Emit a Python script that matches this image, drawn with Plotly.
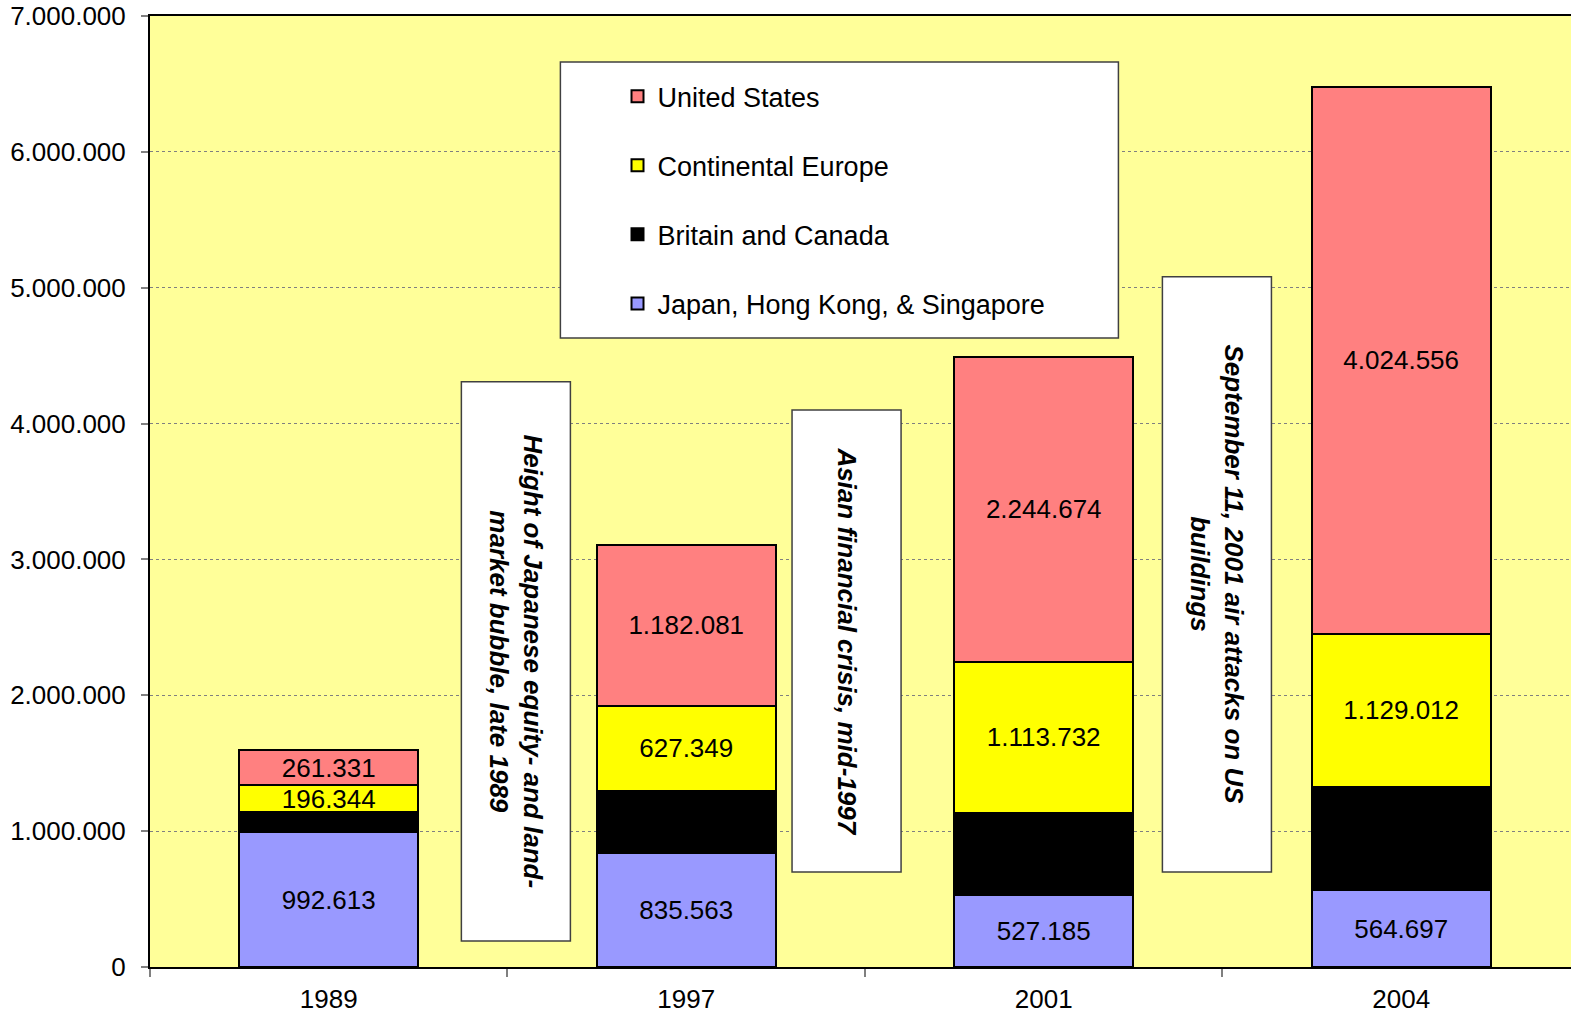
import plotly.graph_objects as go

# Market capitalisation by region (stacked), selected years
years = ["1989", "1997", "2001", "2004"]
japan_hk_sg = [992613, 835563, 527185, 564697]
britain_canada = [148000, 460000, 607000, 760000]
continental_europe = [196344, 627349, 1113732, 1129012]
united_states = [261331, 1182081, 2244674, 4024556]

y_ticks = [0, 1000000, 2000000, 3000000, 4000000, 5000000, 6000000, 7000000]

events = [
    "Height of Japanese equity- and land-<br>market bubble, late 1989",
    "Asian financial crisis, mid-1997",
    "September 11, 2001 air attacks on US<br>buildings",
]

FONT = "Liberation Sans, Arial, sans-serif"
xpos = list(range(len(years)))

# (name, values, colour, show value label, legend rank)
series = [
    ("Japan, Hong Kong, & Singapore", japan_hk_sg, "#9999FF", True, 4),
    ("Britain and Canada", britain_canada, "#000000", False, 3),
    ("Continental Europe", continental_europe, "#FFFF00", True, 2),
    ("United States", united_states, "#FF8080", True, 1),
]

fig = go.Figure()
for name, vals, color, labelled, rank in series:
    fig.add_trace(go.Bar(
        name=name, x=xpos, y=vals, width=0.5,
        marker=dict(color=color, line=dict(color="#000000", width=2)),
        texttemplate="%{y:,.0f}" if labelled else "",
        textposition="inside", insidetextanchor="middle",
        textangle=0, constraintext="none",
        textfont=dict(family=FONT, size=26, color="#000000"),
        legendgroup=name, legendrank=rank,
    ))

# Event boxes between the bars (x in category units, y in data units)
boxes = [
    (0.371, 0.676, 191000, 4308000),
    (1.296, 1.601, 700000, 4100000),
    (2.332, 2.637, 700000, 5080000),
]
shapes = []
annotations = []
for (x0, x1, y0, y1), txt in zip(boxes, events):
    shapes.append(dict(type="rect", xref="x", yref="y", x0=x0, x1=x1, y0=y0, y1=y1,
                       fillcolor="#FFFFFF", line=dict(color="#404040", width=1.5),
                       layer="above"))
    annotations.append(dict(x=(x0 + x1) / 2, y=(y0 + y1) / 2, xref="x", yref="y",
                            text=txt, showarrow=False, textangle=90, align="center",
                            font=dict(family=FONT, size=26, color="#000000",
                                      weight="bold", style="italic")))

# Legend frame
shapes.append(dict(type="rect", xref="x", yref="y", x0=0.648, x1=2.209,
                   y0=4630000, y1=6661000, fillcolor="#FFFFFF",
                   line=dict(color="#404040", width=1.5), layer="above"))

fig.update_layout(
    width=1571, height=1016,
    margin=dict(l=150, r=0, t=16, b=49),
    paper_bgcolor="#FFFFFF", plot_bgcolor="#FFFF99",
    barmode="stack", bargap=0.5,
    separators=",.",
    font=dict(family=FONT, size=26, color="#000000"),
    showlegend=True,
    legend=dict(x=0.329, xanchor="left", y=0.941, yanchor="top",
                bgcolor="rgba(0,0,0,0)", borderwidth=0,
                traceorder="grouped", tracegroupgap=31, itemwidth=30,
                font=dict(family=FONT, size=27, color="#000000")),
    shapes=shapes, annotations=annotations,
    xaxis=dict(range=[-0.5, 3.475], tickvals=xpos, ticktext=years, ticks="",
               showgrid=False, zeroline=False,
               showline=True, linecolor="#000000", linewidth=2, mirror=True,
               ticklabelstandoff=8,
               minor=dict(tickvals=[-0.5, 0.5, 1.5, 2.5, 3.5], ticks="outside",
                          ticklen=8, tickcolor="#808080", tickwidth=2),
               tickfont=dict(family=FONT, size=26, color="#000000")),
    yaxis=dict(range=[0, 7000000], tickvals=y_ticks, tickformat=",.0f",
               ticks="outside", ticklen=7, tickcolor="#808080", tickwidth=2,
               showgrid=True, gridcolor="#808080", gridwidth=1, griddash="dot",
               zeroline=False, showline=True, linecolor="#000000", linewidth=2,
               ticklabelstandoff=10,
               tickfont=dict(family=FONT, size=26, color="#000000")),
)

fig.write_html("out.html")
